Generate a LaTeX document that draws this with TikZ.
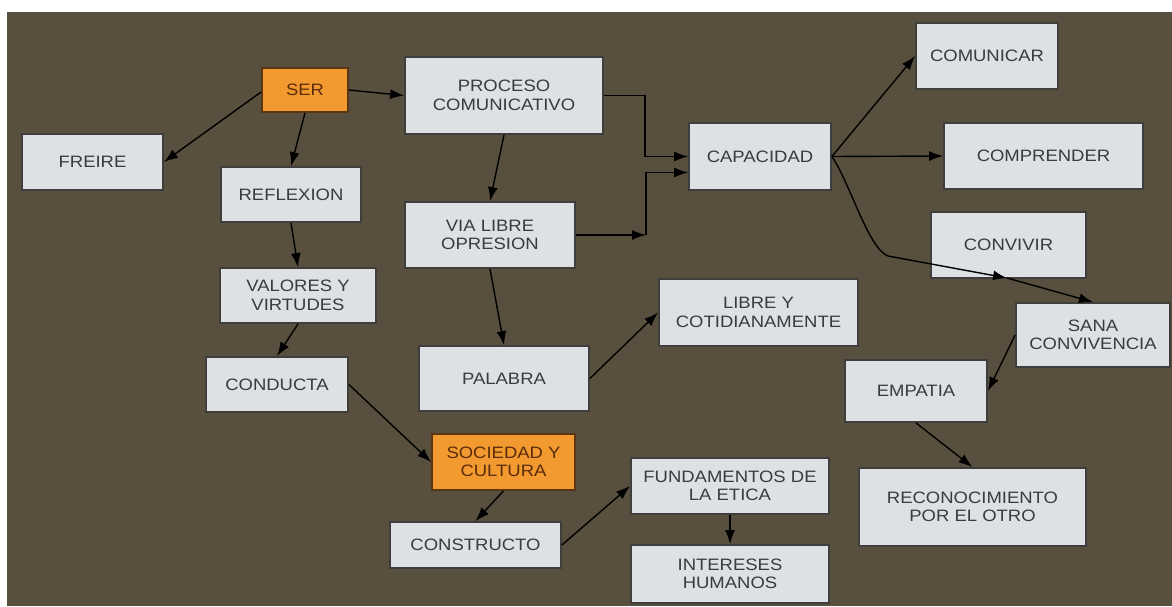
\documentclass[tikz,border=0pt]{standalone}
\usepackage{fontspec}
\setmainfont{Liberation Sans}[FakeStretch=1.12]
\usetikzlibrary{arrows.meta}
\definecolor{bgbrown}{HTML}{584F3E}
\definecolor{boxfill}{HTML}{DDE1E4}
\definecolor{boxline}{HTML}{3E3E3C}
\definecolor{boxtext}{HTML}{383C41}
\definecolor{orfill}{HTML}{F2992F}
\definecolor{orline}{HTML}{5A3510}
\definecolor{ortext}{HTML}{5A2C0A}
\tikzset{
  box/.style={draw=boxline, line width=1.8pt, fill=boxfill, text=boxtext, inner sep=0pt, align=center,
    font=\fontsize{16.5}{18.5}\selectfont},
  obox/.style={box, fill=orfill, draw=orline, text=ortext},
  arr/.style={draw=black, line width=1.4pt, -{Latex[length=14pt,width=10pt]}},
}
\begin{document}
\begin{tikzpicture}[x=1pt,y=-1pt]
\useasboundingbox[fill=white] (0,0) rectangle (1172,606);
\fill[bgbrown] (7,12) rectangle (1172,606);
\newcommand{\bx}[6]{\node[#1, minimum width=#4pt, minimum height=#5pt] (#2) at #3 {#6};}
\bx{obox}{ser}{(305,90)}{86}{44}{SER}
\bx{box}{freire}{(92.5,162)}{141}{56}{FREIRE}
\bx{box}{reflexion}{(291,194.5)}{140}{55}{REFLEXION}
\bx{box}{proceso}{(504,95.5)}{198}{77}{PROCESO\\COMUNICATIVO}
\bx{box}{via}{(490,235)}{170}{66}{VIA LIBRE\\OPRESION}
\bx{box}{capacidad}{(760,156.5)}{142}{67}{CAPACIDAD}
\bx{box}{comunicar}{(987,56)}{142}{66}{COMUNICAR}
\bx{box}{comprender}{(1043.5,156)}{199}{66}{COMPRENDER}
\bx{box}{convivir}{(1008.5,245)}{155}{66}{CONVIVIR}
\bx{box}{valores}{(298,295.5)}{156}{55}{VALORES Y\\VIRTUDES}
\bx{box}{conducta}{(277,384.5)}{142}{55}{CONDUCTA}
\bx{box}{palabra}{(504,378.5)}{170}{65}{PALABRA}
\bx{box}{libre}{(758.5,312.5)}{199}{67}{LIBRE Y\\COTIDIANAMENTE}
\bx{box}{sana}{(1093,335)}{154}{64}{SANA\\CONVIVENCIA}
\bx{box}{empatia}{(916,391)}{142}{62}{EMPATIA}
\bx{obox}{sociedad}{(503.5,462)}{143}{56}{SOCIEDAD Y\\CULTURA}
\bx{box}{fundamentos}{(730,486)}{198}{56}{FUNDAMENTOS DE\\LA ETICA}
\bx{box}{reconocimiento}{(972.5,507)}{227}{78}{RECONOCIMIENTO\\POR EL OTRO}
\bx{box}{constructo}{(475.5,545)}{171}{46}{CONSTRUCTO}
\bx{box}{intereses}{(730,574)}{198}{58}{INTERESES\\HUMANOS}
\coordinate (c1) at (646,235);
\coordinate (cv) at (1007,278);
% edges
\draw[arr] (ser.east) -- (proceso.west);
\draw[arr] ([yshift=-2pt]ser.west) -- (freire.east);
\draw[arr] (ser.south) -- (reflexion.north);
\draw[arr] (reflexion.south) -- (valores.north);
\draw[arr] (valores.south) -- (conducta.north);
\draw[arr] (conducta.east) -- (sociedad.west);
\draw[arr] (proceso.south) -- (via.north);
\draw[arr] (via.south) -- (palabra.north);
\draw[arr] (palabra.east) -- (libre.west);
\draw[arr] (sociedad.south) -- (constructo.north);
\draw[arr] (constructo.east) -- (fundamentos.west);
\draw[arr] (fundamentos.south) -- (intereses.north);
\draw[arr] (sana.west) -- (empatia.east);
\draw[arr] (empatia.south) -- (reconocimiento.north);
\draw[arr] (proceso.east) -| ([xshift=-43pt]capacidad.west) -- (capacidad.west);
\draw[arr] (via.east) -- (c1);
\draw[arr] (c1) |- ([yshift=-16pt]capacidad.west);
\draw[arr] (capacidad.east) -- (comunicar.west);
\draw[arr] (capacidad.east) -- (comprender.west);
\draw[arr] (capacidad.east) .. controls (850,183) and (868,248) .. (888,256) -- (cv);
\draw[arr] (cv) -- (sana.north);
\end{tikzpicture}
\end{document}
